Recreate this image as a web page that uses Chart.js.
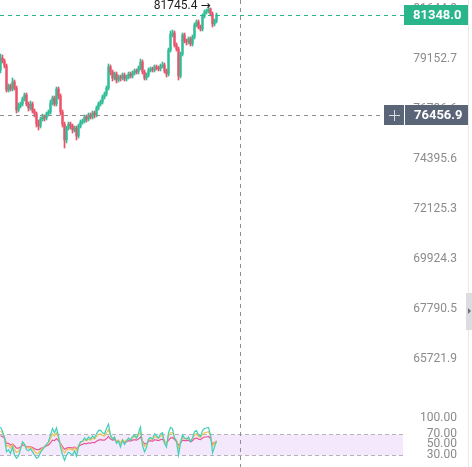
<!DOCTYPE html>
<html><head><meta charset="utf-8">
<script src="https://cdn.jsdelivr.net/npm/chart.js@4.4.1/dist/chart.umd.min.js"></script>
<style>html,body{margin:0;padding:0;background:#fff;overflow:hidden}canvas{display:block}</style>
</head><body>
<canvas id="c" width="472" height="467"></canvas>
<script>
// ---- data ----
const openP = [
78615,79202,79055,78810,77646,77839,77694,78032,77742,76689,
76880,76976,77214,77406,76976,76785,76976,76642,76499,76026,
75932,76262,76357,76310,76499,76594,77023,77262,76976,77694,
77358,76594,76026,75277,75838,76026,75932,75744,75838,75463,
75932,76121,76168,76357,76262,76452,76357,76547,76452,76785,
76976,77071,77310,77454,77742,78762,78518,78226,78420,78129,
78274,78226,78371,78177,78274,78420,78323,78469,78567,78518,
78713,79006,78518,78226,78371,78615,78664,78615,78762,78713,
78664,78810,78859,78567,78420,79595,80389,80439,79843,79645,
78323,79398,80339,80041,79992,80141,79893,80240,80839,80990,
80739,80639,81291,81493,81544,81645,81392,80889,81040];
const highP = [
79398,79349,79153,78908,77935,77935,78226,78129,77839,77023,
77071,77310,77502,77502,77071,77118,77071,76737,76594,76215,
76357,76499,76452,76594,76689,77166,77358,77358,77790,77790,
77454,76689,76121,75932,76121,76121,76026,75932,75932,76026,
76215,76262,76452,76452,76547,76547,76642,76642,76880,77071,
77166,77406,77550,77839,78908,78859,78615,78518,78518,78371,
78371,78469,78469,78371,78518,78518,78567,78664,78664,78810,
79153,79104,78615,78469,78713,78762,78762,78859,78859,78810,
78908,79006,78957,78664,79694,80539,80589,80539,79943,79744,
79496,80439,80439,80141,80240,80240,80339,80940,81090,81090,
80839,81392,81594,81645,81745.4,81695,81493,81140,81443];
const lowP = [
78469,78957,78713,77550,77550,77598,77598,77646,76547,76594,
76785,76880,77118,76880,76642,76689,76547,76357,75885,75744,
75838,76168,76168,76215,76405,76499,76928,76880,76880,77214,
76452,75885,74904,75137,75744,75791,75603,75650,75277,75370,
75838,76026,76073,76121,76168,76262,76262,76310,76357,76689,
76880,76976,77214,77358,77646,78371,78080,78129,77983,78032,
78080,78129,78080,78080,78177,78226,78226,78371,78420,78420,
78615,78420,78129,78129,78274,78518,78518,78518,78615,78567,
78567,78713,78469,78274,78323,79496,80240,79744,79546,78129,
78226,79300,79943,79843,79893,79793,79793,80141,80739,80639,
80539,80539,81190,81392,81443,81291,80739,80789,80940];
const closeP = [
79202,79055,78810,77646,77839,77694,78032,77742,76689,76880,
76976,77214,77406,76976,76785,76976,76642,76499,76026,75932,
76262,76357,76310,76499,76594,77023,77262,76976,77694,77358,
76594,76026,75277,75838,76026,75932,75744,75838,75463,75932,
76121,76168,76357,76262,76452,76357,76547,76452,76785,76976,
77071,77310,77454,77742,78762,78518,78226,78420,78129,78274,
78226,78371,78177,78274,78420,78323,78469,78567,78518,78713,
79006,78518,78226,78371,78615,78664,78615,78762,78713,78664,
78810,78859,78567,78420,79595,80389,80439,79843,79645,78323,
79398,80339,80041,79992,80141,79893,80240,80839,80990,80739,
80639,81291,81493,81544,81645,81392,80889,81040,81348.0];
const rsiFast = [
83,75,62,36,40,33,45,30,24,28,
40,55,50,40,38,42,36,30,24,26,
35,40,45,50,55,68,80,72,81,65,
45,30,20,30,35,33,30,38,28,45,
55,56,62,58,64,60,66,62,70,76,
77,72,70,80,88,68,60,64,52,56,
45,58,50,56,62,58,64,68,62,72,
83,48,36,44,60,63,60,70,66,62,
70,72,52,45,72,82,80,62,55,30,
52,68,62,60,64,55,62,74,76,68,
65,76,80,81,82,68,34,45,56];
const rsiMid = [
75,72,64,46,48,43,50,40,35,37,
44,53,50,44,43,45,41,37,33,34,
39,43,46,50,53,61,70,66,72,63,
51,41,34,39,42,41,39,44,38,48,
54,55,59,57,60,58,62,60,65,69,
70,67,66,72,78,66,61,63,56,58,
51,59,55,58,61,59,63,65,62,67,
74,55,46,50,59,61,59,65,63,61,
65,67,56,51,65,72,72,63,58,43,
55,64,61,60,62,57,61,68,70,65,
63,69,72,73,74,66,47,52,57];
const rsiSlow = [
66,65,62,52,52,49,51,47,43,43,
45,49,48,46,45,46,44,42,40,40,
42,44,45,47,49,53,58,57,61,57,
52,46,41,43,44,44,43,45,42,46,
49,50,52,51,53,52,54,53,56,58,
59,58,58,61,65,60,58,59,56,56,
53,56,54,55,57,56,58,59,58,60,
64,56,51,52,56,57,56,59,58,57,
59,60,55,52,58,62,63,59,56,48,
53,58,57,57,58,55,57,61,62,60,
59,62,64,64,65,61,51,53,56];
const priceTicks = [81644.9, 79152.7, 76736.6, 74395.6, 72125.3, 69924.3, 67790.5, 65721.9];
const rsiTicks = [100, 70, 50, 30];
const rsiBand = [30, 70];
const lastPrice = 81348.0;
const crosshairPrice = 76456.9;
const crosshairIndex = 120;
const priceRange = [63675.5, 82101];
const rsiRange = [7.3, 115];
const indexRange = [-0.25, 201.25];

// ---- styling ----
const UP = '#2ebd96', DOWN = '#ea5169';
const candleColors = openP.map((o, i) => closeP[i] >= o ? UP : DOWN);
const FONT = 'Roboto';

const wickData = lowP.map((l, i) => ({x: i, y: [l, highP[i]]}));
const bodyData = openP.map((o, i) => ({x: i, y: [o, closeP[i]]}));
const toLine = arr => arr.map((v, i) => ({x: i, y: v}));

function fixAxis(s) { s.width = 54; s.paddingTop = 0; s.paddingBottom = 0; }

const overlay = {
  id: 'overlay',
  beforeDatasetsDraw(chart) {
    const {ctx, chartArea: ca} = chart;
    const r = chart.scales.rsi;
    const yTop = Math.round(r.getPixelForValue(rsiBand[1])) + 0.5;
    const yBot = Math.round(r.getPixelForValue(rsiBand[0])) + 0.5;
    ctx.save();
    ctx.fillStyle = '#f3e8fc';
    ctx.fillRect(ca.left, yTop, ca.right - ca.left, yBot - yTop);
    ctx.strokeStyle = '#b4b4b8'; ctx.lineWidth = 1; ctx.setLineDash([4, 3]);
    [yTop, yBot].forEach(y => { ctx.beginPath(); ctx.moveTo(ca.left, y); ctx.lineTo(ca.right, y); ctx.stroke(); });
    ctx.restore();
  },
  afterDraw(chart) {
    const {ctx} = chart;
    const xs = chart.scales.x, ys = chart.scales.y;
    ctx.save();
    // last price line
    const yl = Math.round(ys.getPixelForValue(lastPrice)) + 0.5;
    ctx.strokeStyle = '#2bb38b'; ctx.lineWidth = 1; ctx.setLineDash([4, 4]);
    ctx.beginPath(); ctx.moveTo(0, yl); ctx.lineTo(404, yl); ctx.stroke();
    // crosshair
    const xc = xs.getPixelForValue(crosshairIndex);
    const yc = Math.round(ys.getPixelForValue(crosshairPrice)) + 0.5;
    ctx.strokeStyle = '#8e8e8e'; ctx.setLineDash([4, 4]);
    ctx.beginPath(); ctx.moveTo(xc, 0); ctx.lineTo(xc, 467); ctx.stroke();
    ctx.beginPath(); ctx.moveTo(0, yc); ctx.lineTo(384, yc); ctx.stroke();
    ctx.setLineDash([]);
    // right border strip
    ctx.strokeStyle = '#e9e9ec';
    ctx.beginPath(); ctx.moveTo(468.5, 0); ctx.lineTo(468.5, 467); ctx.stroke();
    ctx.fillStyle = '#dcdde1';
    ctx.fillRect(466, 293, 6, 37);
    ctx.fillStyle = '#6b6f78';
    ctx.beginPath(); ctx.moveTo(468, 308); ctx.lineTo(471, 311); ctx.lineTo(468, 314); ctx.closePath(); ctx.fill();
    // last price box
    ctx.fillStyle = '#2bb58b';
    ctx.fillRect(404, yl - 10.5, 64, 20);
    ctx.fillStyle = '#ffffff';
    ctx.font = 'bold 13px ' + FONT; ctx.textAlign = 'left'; ctx.textBaseline = 'middle';
    ctx.fillText(lastPrice.toFixed(1), 413, yl);
    // crosshair box
    ctx.fillStyle = '#5a6577';
    ctx.fillRect(384, yc - 10.5, 20, 20);
    ctx.fillRect(405, yc - 10.5, 63, 20);
    ctx.strokeStyle = '#d8dce2'; ctx.lineWidth = 1;
    ctx.beginPath(); ctx.moveTo(389, yc); ctx.lineTo(400, yc); ctx.moveTo(394.5, yc - 5.5); ctx.lineTo(394.5, yc + 5.5); ctx.stroke();
    ctx.fillStyle = '#ffffff';
    ctx.fillText(crosshairPrice.toFixed(1), 414, yc);
    // max marker
    let mi = 0; highP.forEach((h, i) => { if (h > highP[mi]) mi = i; });
    const mx = xs.getPixelForValue(mi), my = ys.getPixelForValue(highP[mi]);
    ctx.fillStyle = '#1e1e1e'; ctx.font = '12px ' + FONT; ctx.textAlign = 'right';
    ctx.fillText(highP[mi].toFixed(1), mx - 11, my - 1);
    ctx.font = '12px "DejaVu Sans"'; ctx.textAlign = 'left';
    ctx.fillText('\u2192', mx - 8, my - 1);
    ctx.restore();
  }
};

new Chart(document.getElementById('c'), {
  type: 'bar',
  data: {
    datasets: [
      {label: 'wick', data: wickData, backgroundColor: candleColors, barThickness: 1, stack: 'c', yAxisID: 'y', xAxisID: 'x', order: 2},
      {label: 'body', data: bodyData, backgroundColor: candleColors, barThickness: 1.6, minBarLength: 1, stack: 'c', yAxisID: 'y', xAxisID: 'x', order: 1},
      {type: 'line', label: 'RSI6', data: toLine(rsiFast), borderColor: '#3fd0b9', borderWidth: 1.2, pointRadius: 0, yAxisID: 'rsi', xAxisID: 'x', order: 0},
      {type: 'line', label: 'RSI12', data: toLine(rsiMid), borderColor: '#f2c14e', borderWidth: 1.2, pointRadius: 0, yAxisID: 'rsi', xAxisID: 'x', order: 0},
      {type: 'line', label: 'RSI24', data: toLine(rsiSlow), borderColor: '#e8579a', borderWidth: 1.2, pointRadius: 0, yAxisID: 'rsi', xAxisID: 'x', order: 0}
    ]
  },
  options: {
    responsive: false,
    animation: false,
    devicePixelRatio: 1,
    layout: {padding: {left: 0, top: 0, bottom: 0, right: 15}},
    plugins: {legend: {display: false}, tooltip: {enabled: false}},
    scales: {
      x: {type: 'linear', display: false, offset: false, min: indexRange[0], max: indexRange[1], bounds: 'data'},
      y: {
        type: 'logarithmic', position: 'right', stack: 'v', stackWeight: 410, stacked: false,
        min: priceRange[0], max: priceRange[1], bounds: 'data',
        border: {display: false}, grid: {display: false, drawTicks: false},
        afterBuildTicks: s => { s.ticks = priceTicks.map(v => ({value: v})); },
        afterFit: fixAxis,
        ticks: {autoSkip: false, padding: 10, crossAlign: 'far', color: '#8b8b8b', font: {family: FONT, size: 12},
          callback: v => Number(v).toFixed(1)}
      },
      rsi: {
        type: 'linear', position: 'right', stack: 'v', stackWeight: 57, stacked: false,
        min: rsiRange[0], max: rsiRange[1], bounds: 'data',
        border: {display: false}, grid: {display: false, drawTicks: false},
        afterBuildTicks: s => { s.ticks = rsiTicks.map(v => ({value: v})); },
        afterFit: fixAxis,
        ticks: {autoSkip: false, padding: 10, crossAlign: 'far', color: '#8b8b8b', font: {family: FONT, size: 12},
          callback: v => Number(v).toFixed(2)}
      }
    }
  },
  plugins: [overlay]
});
</script>
</body></html>
